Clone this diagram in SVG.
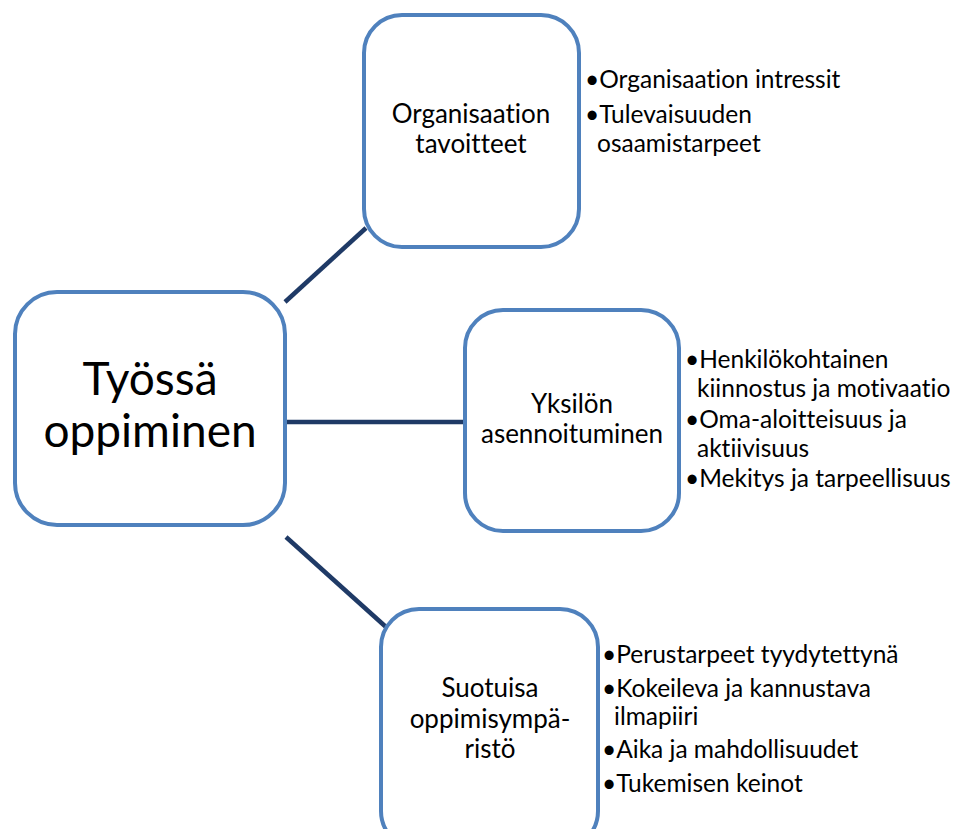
<svg xmlns="http://www.w3.org/2000/svg" width="959" height="829" viewBox="0 0 959 829">
  <style>
    text { font-family: Lato, "Open Sans", "Liberation Sans", sans-serif; fill: #000; font-variant-ligatures: none; }
    .box { fill: #ffffff; stroke: #4f81bd; stroke-width: 4; }
    .link { stroke: #1f3a66; stroke-width: 4.5; fill: none; }
    .lbl { font-size: 26px; text-anchor: middle; }
    .big { font-size: 46px; text-anchor: middle; }
    .bul { font-size: 24.5px; }
  </style>
  <rect width="959" height="829" fill="#ffffff"/>

  <!-- connectors from the central node -->
  <g id="connectors">
    <line class="link" x1="285" y1="302" x2="366" y2="228"/>
    <line class="link" x1="286" y1="422" x2="464" y2="422"/>
    <line class="link" x1="286" y1="537" x2="386" y2="627"/>
  </g>

  <g id="node-main">
    <rect class="box" x="15" y="292" width="270" height="233" rx="42"/>
    <text class="big" x="150" y="395">Työssä</text>
    <text class="big" x="150" y="447">oppiminen</text>
  </g>

  <g id="node-organisaatio">
    <rect class="box" x="364" y="15" width="215" height="232" rx="38"/>
    <text class="lbl" x="471" y="123">Organisaation</text>
    <text class="lbl" x="471" y="153">tavoitteet</text>
    <text class="bul" x="585" y="88">•Organisaation intressit</text>
    <text class="bul" x="585" y="123">•Tulevaisuuden</text>
    <text class="bul" x="597" y="152">osaamistarpeet</text>
  </g>

  <g id="node-yksilo">
    <rect class="box" x="465" y="310" width="214" height="221" rx="38"/>
    <text class="lbl" x="572" y="413">Yksilön</text>
    <text class="lbl" x="572" y="443">asennoituminen</text>
    <text class="bul" x="685" y="368">•Henkilökohtainen</text>
    <text class="bul" x="697" y="397">kiinnostus ja motivaatio</text>
    <text class="bul" x="685" y="428">•Oma-aloitteisuus ja</text>
    <text class="bul" x="697" y="457">aktiivisuus</text>
    <text class="bul" x="685" y="487">•Mekitys ja tarpeellisuus</text>
  </g>

  <g id="node-suotuisa">
    <rect class="box" x="381" y="609" width="217" height="240" rx="38"/>
    <text class="lbl" x="490" y="697">Suotuisa</text>
    <text class="lbl" x="490" y="728">oppimisympä-</text>
    <text class="lbl" x="490" y="758">ristö</text>
    <text class="bul" x="602" y="663">•Perustarpeet tyydytettynä</text>
    <text class="bul" x="602" y="697">•Kokeileva ja kannustava</text>
    <text class="bul" x="614" y="725">ilmapiiri</text>
    <text class="bul" x="602" y="758">•Aika ja mahdollisuudet</text>
    <text class="bul" x="602" y="792">•Tukemisen keinot</text>
  </g>
</svg>
